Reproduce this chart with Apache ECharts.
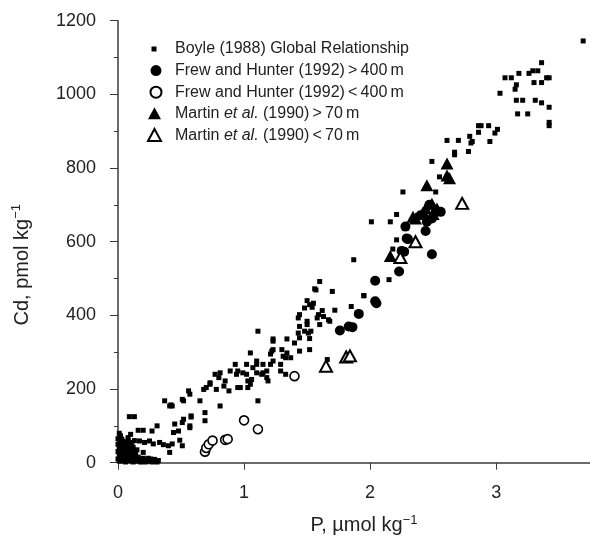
<!DOCTYPE html>
<html>
<head>
<meta charset="utf-8">
<script src="https://cdn.jsdelivr.net/npm/echarts@6/dist/echarts.min.js"></script>
<style>html,body{margin:0;padding:0;background:#fff}#c{width:590px;height:537px}</style>
</head>
<body>
<div id="c"></div>
<script>
// Boyle (1988) global relationship: [P, Cd]
const boyleData = [
  [0.01,5],[0.02,15],[0.03,25],[0.01,35],[0.04,45],[0.02,55],[0.05,8],[0.06,20],[0.07,32],[0.08,12],
  [0.09,25],[0.10,5],[0.11,18],[0.12,8],[0.13,30],[0.14,15],[0.03,64],[0.04,51],[0.08,59],[0.02,73],
  [0.01,80],[0.05,40],[0.16,5],[0.18,10],[0.20,3],[0.22,8],[0.24,4],[0.26,10],[0.28,5],[0.30,3],
  [0.32,6],[0.15,35],[0.06,2],[0.12,2],[0.18,2],[0.01,22],[0.06,48],[0.10,40],
  [0.00,10],[0.00,30],[0.00,50],[0.00,65],[0.02,5],[0.02,25],[0.02,45],[0.02,62],[0.04,12],[0.04,32],
  [0.04,58],[0.06,5],[0.06,28],[0.06,42],[0.08,20],[0.08,38],[0.08,50],[0.10,12],[0.10,30],[0.11,55],
  [0.12,20],[0.12,42],[0.14,5],[0.14,25],[0.13,60],[0.16,15],[0.18,3],[0.20,12],[0.22,2],[0.24,12],
  [0.27,2],[0.29,9],[0.31,2],[0.01,45],[0.03,38],[0.05,55],[0.07,45],[0.09,8],[0.11,35],[0.13,10],
  [0.09,125],[0.13,125],[0.16,88],[0.20,88],[0.27,86],[0.31,100],[0.10,77],[0.08,68],[0.17,59],[0.21,55],
  [0.25,59],[0.28,51],[0.33,55],[0.36,49],[0.40,46],[0.43,51],[0.20,28],[0.41,28],[0.51,46],[0.49,61],
  [0.44,82],[0.48,86],[0.45,105],[0.51,109],[0.57,100],[0.58,127],[0.52,118],[0.57,95],[0.69,136],[0.69,114],
  [0.37,168],[0.42,157],[0.41,154],[0.51,172],[0.56,195],[0.57,186],[0.65,168],[0.52,168],[0.43,154],[0.58,124],
  [0.70,204],[0.73,217],[0.78,199],[0.77,240],[0.81,244],[0.85,222],[0.89,249],[0.88,195],[0.80,231],[0.84,208],
  [0.73,213],[0.68,199],[0.81,154],[0.93,267],[0.95,249],[0.97,204],[1.02,240],[1.03,222],[1.07,258],[1.10,244],
  [1.05,298],[1.10,276],[1.11,168],[0.95,204],[1.03,204],[0.94,240],[0.99,244],[1.06,226],[1.05,213],[1.02,267],
  [1.10,267],[1.14,240],[1.18,249],[1.15,267],[1.18,231],[1.19,222],[1.15,244],[1.21,267],[1.23,276],[1.22,303],
  [1.23,330],[1.30,307],[1.33,285],[1.29,267],[1.29,249],[1.33,240],[1.21,295],[1.23,307],[1.34,298],[1.37,285],
  [1.31,289],[1.44,303],[1.52,307],[1.66,280],[1.11,357],[1.23,336],[1.34,336],[1.40,325],[1.43,352],[1.44,339],
  [1.44,370],[1.48,357],[1.53,357],[1.52,337],[1.43,393],[1.44,402],[1.48,420],[1.50,375],[1.51,352],[1.50,384],
  [1.58,393],[1.63,397],[1.67,388],[1.60,375],[1.68,384],[1.62,413],[1.59,402],[1.72,414],[1.85,424],[1.50,440],
  [1.55,433],[1.54,422],[1.52,429],[1.60,492],[1.57,469],[1.70,465],[1.56,472],[1.95,453],[1.87,551],
  [2.15,497],[1.95,454],[2.18,580],[2.21,605],[2.01,654],[2.16,654],[2.21,674],[2.26,735],[2.52,735],[2.55,776],
  [2.49,818],[2.67,843],[2.67,836],[2.78,845],[2.80,868],[2.79,886],[2.86,897],[2.86,915],[2.88,915],[2.94,915],
  [3.01,905],[2.99,895],[2.61,875],[2.70,875],[2.81,872],[2.95,872],[3.03,1003],[3.07,1045],[3.12,1045],[3.16,1026],
  [3.15,1014],[3.18,1057],[3.26,1057],[3.29,1064],[3.33,1064],[3.36,1086],[3.30,1032],[3.36,1032],[3.40,1045],[3.42,1045],
  [3.16,984],[3.21,984],[3.31,984],[3.36,977],[3.42,965],[3.17,947],[3.25,947],[3.42,924],[3.42,915],[3.69,1145]
];
// Frew and Hunter (1992) > 400 m
const frewDeep = [
  [1.76,359],[1.83,370],[1.86,368],[1.91,404],[2.04,438],[2.05,433],[2.04,494],[2.23,519],[2.25,575],[2.27,573],
  [2.29,609],[2.30,607],[2.28,641],[2.44,629],[2.49,566],[2.40,672],[2.45,654],[2.49,663],[2.56,681],[2.47,700],[2.52,680]
];
// Frew and Hunter (1992) < 400 m
const frewShallow = [
  [0.69,30],[0.70,40],[0.72,50],[0.75,60],[0.85,62],[0.87,64],[1.00,115],[1.11,91],[1.40,235]
];
// Martin et al. (1990) > 70 m
const martinDeep = [
  [2.61,812],[2.61,780],[2.63,772],[2.45,753],[2.49,703],[2.44,690],[2.53,690],[2.36,663],[2.34,668],[2.16,561],[2.42,680],[2.50,675]
];
// Martin et al. (1990) < 70 m
const martinShallow = [
  [2.73,704],[2.36,600],[2.24,557],[1.81,287],[1.84,290],[1.65,262]
];
const legendNames = [
  'Boyle (1988) Global Relationship',
  'Frew and Hunter (1992)\u2009>\u2009400\u2009m',
  'Frew and Hunter (1992)\u2009<\u2009400\u2009m',
  'Martin et al. (1990)\u2009>\u200970\u2009m',
  'Martin et al. (1990)\u2009<\u200970\u2009m'
];
const xTicks = [0, 1, 2, 3];
const yTicks = [0, 200, 400, 600, 800, 1000, 1200];

const INK = '#000';
const AX = '#3a3a3a';
const FONT = "'Liberation Sans', Arial, sans-serif";

const icoSquare = 'path://M0,0M28,14M9.5,4.5h5v5h-5z';
const icoCircle = 'path://M0,0M28,14M14,1.5a5.5,5.5 0 1 1 -0.01,0z';
const icoTri = 'path://M0,0M28,14M12.5,0.5L19,12.5L6,12.5z';

const chart = echarts.init(document.getElementById('c'), null, {renderer: 'canvas'});
chart.setOption({
  animation: false,
  backgroundColor: '#fff',
  grid: {left: 118, right: -2, top: 20.7, bottom: 74.3, containLabel: false, outerBoundsMode: 'none'},
  legend: {
    orient: 'vertical', left: 141, top: 39, padding: 0, itemGap: 1.6,
    itemWidth: 28, itemHeight: 14,
    data: [
      {name: legendNames[0], icon: icoSquare},
      {name: legendNames[1], icon: icoCircle},
      {name: legendNames[2], icon: icoCircle},
      {name: legendNames[3], icon: icoTri},
      {name: legendNames[4], icon: icoTri}
    ],
    formatter: function (n) {
      if (n.indexOf('Martin et al.') === 0) {
        return '{n|Martin }{i|et al.}{n|' + n.slice(13) + '}';
      }
      return '{n|' + n + '}';
    },
    textStyle: {
      fontFamily: FONT, fontSize: 16, color: '#222', lineHeight: 20,
      rich: {
        n: {fontFamily: FONT, fontSize: 16, color: '#222', lineHeight: 20},
        i: {fontFamily: FONT, fontSize: 16, color: '#222', lineHeight: 20, fontStyle: 'italic'}
      }
    }
  },
  xAxis: {
    type: 'value', min: 0, max: 3.76, interval: 1,
    name: 'P, µmol kg{sup|−1}', nameLocation: 'middle', nameGap: 51,
    nameTextStyle: {fontFamily: FONT, fontSize: 20, color: '#222', lineHeight: 24, padding: [0, 0, 0, 18],
      rich: {sup: {fontFamily: FONT, fontSize: 13, color: '#222', lineHeight: 13, verticalAlign: 'top'}}},
    axisLine: {show: true, onZero: false, lineStyle: {color: AX, width: 1.5}},
    axisTick: {show: true, inside: false, length: 7, lineStyle: {color: AX, width: 1}},
    minorTick: {show: false},
    splitLine: {show: false},
    axisLabel: {fontFamily: FONT, fontSize: 18, color: '#222', margin: 21, showMaxLabel: false,
      formatter: function (v) { return xTicks.indexOf(v) >= 0 ? String(v) : ''; }}
  },
  yAxis: {
    type: 'value', min: 0, max: 1200, interval: 200,
    name: 'Cd, pmol kg{sup|−1}', nameLocation: 'middle', nameGap: 84, nameRotate: 90,
    nameTextStyle: {fontFamily: FONT, fontSize: 20, color: '#222', lineHeight: 24, padding: [0, 46, 0, 0],
      rich: {sup: {fontFamily: FONT, fontSize: 13, color: '#222', lineHeight: 13, verticalAlign: 'top'}}},
    axisLine: {show: true, onZero: false, lineStyle: {color: AX, width: 1.5}},
    axisTick: {show: true, inside: false, length: 8, lineStyle: {color: AX, width: 1}},
    minorTick: {show: true, splitNumber: 2, length: 4, lineStyle: {color: AX, width: 1}},
    splitLine: {show: false},
    axisLabel: {fontFamily: FONT, fontSize: 18, color: '#222', margin: 22,
      formatter: function (v) { return yTicks.indexOf(v) >= 0 ? String(v) : ''; }}
  },
  series: [
    {name: legendNames[0], type: 'scatter', data: boyleData, symbol: 'rect', symbolSize: [5, 5],
      itemStyle: {color: INK, opacity: 1}, z: 2},
    {name: legendNames[1], type: 'scatter', data: frewDeep, symbol: 'circle', symbolSize: 10,
      itemStyle: {color: INK, opacity: 1}, z: 3},
    {name: legendNames[2], type: 'scatter', data: frewShallow, symbol: 'circle', symbolSize: 9,
      itemStyle: {color: '#fff', borderColor: INK, borderWidth: 1.6, opacity: 1}, z: 4},
    {name: legendNames[3], type: 'scatter', data: martinDeep, symbol: 'triangle', symbolSize: [13, 12],
      itemStyle: {color: INK, opacity: 1}, z: 5},
    {name: legendNames[4], type: 'scatter', data: martinShallow, symbol: 'triangle', symbolSize: [12, 11],
      itemStyle: {color: '#fff', borderColor: INK, borderWidth: 2, opacity: 1}, z: 6}
  ]
});
</script>
</body>
</html>
